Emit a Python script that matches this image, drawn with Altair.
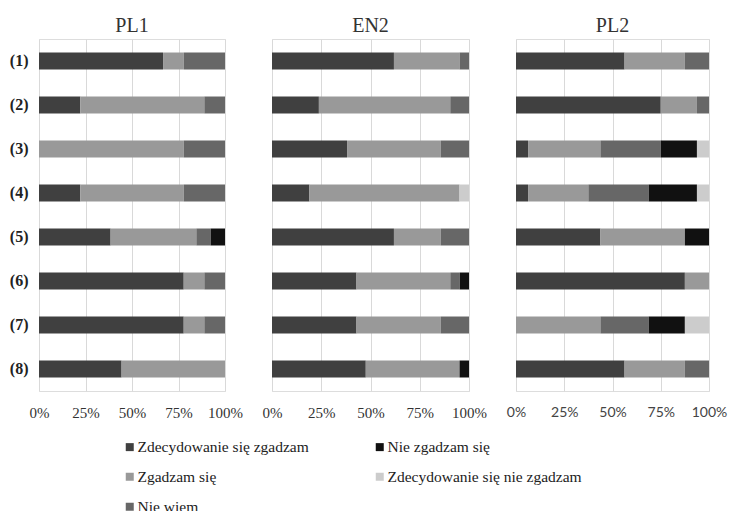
import altair as alt
import pandas as pd

rows = ["(1)", "(2)", "(3)", "(4)", "(5)", "(6)", "(7)", "(8)"]
panels = ["PL1", "EN2", "PL2"]

# stacking order (left to right); Vega fills legend columns top-down,
# which gives the reference's two-column arrangement
stack_cats = ["Zdecydowanie się zgadzam", "Zgadzam się", "Nie wiem",
              "Nie zgadzam się", "Zdecydowanie się nie zgadzam"]
stack_colors = ["#404040", "#999999", "#676767", "#111111", "#cccccc"]

# PL1 (percent)
pl1_zz = [66.7, 22.2, 0, 22.2, 38.5, 77.8, 77.8, 44.4]
pl1_zg = [11.1, 66.7, 77.8, 55.6, 46.1, 11.1, 11.1, 55.6]
pl1_nw = [22.2, 11.1, 22.2, 22.2, 7.7, 11.1, 11.1, 0]
pl1_nz = [0, 0, 0, 0, 7.7, 0, 0, 0]
pl1_zn = [0, 0, 0, 0, 0, 0, 0, 0]

# EN2
en2_zz = [61.9, 23.8, 38.1, 19.0, 61.9, 42.9, 42.9, 47.6]
en2_zg = [33.3, 66.7, 47.6, 76.2, 23.8, 47.6, 42.8, 47.6]
en2_nw = [4.8, 9.5, 14.3, 0, 14.3, 4.8, 14.3, 0]
en2_nz = [0, 0, 0, 0, 0, 4.7, 0, 4.8]
en2_zn = [0, 0, 0, 4.8, 0, 0, 0, 0]

# PL2
pl2_zz = [56.25, 75, 6.25, 6.25, 43.75, 87.5, 0, 56.25]
pl2_zg = [31.25, 18.75, 37.5, 31.25, 43.75, 12.5, 43.75, 31.25]
pl2_nw = [12.5, 6.25, 31.25, 31.25, 0, 0, 25, 12.5]
pl2_nz = [0, 0, 18.75, 25, 12.5, 0, 18.75, 0]
pl2_zn = [0, 0, 6.25, 6.25, 0, 0, 12.5, 0]

panel_series = {
    "PL1": [pl1_zz, pl1_zg, pl1_nw, pl1_nz, pl1_zn],
    "EN2": [en2_zz, en2_zg, en2_nw, en2_nz, en2_zn],
    "PL2": [pl2_zz, pl2_zg, pl2_nw, pl2_nz, pl2_zn],
}

FONT = "Liberation Serif"
SANS = "Lato"
widths = {"PL1": 186, "EN2": 197, "PL2": 193}


def make_df(name):
    recs = []
    for k, (cat, vals) in enumerate(zip(stack_cats, panel_series[name])):
        for r, v in zip(rows, vals):
            if v > 0:
                recs.append({"row": r, "cat": cat, "ord": k, "value": v})
    return pd.DataFrame(recs)


def panel(name, show_y, tick_font, tick_size, tick_color):
    yaxis = alt.Axis(title=None, ticks=False, domain=False,
                     labelFontSize=16, labelFontWeight="bold", labelColor="#222",
                     labelPadding=11) if show_y else None
    return alt.Chart(make_df(name)).mark_bar().encode(
        x=alt.X("value:Q", stack="normalize",
                scale=alt.Scale(domain=[0, 1], nice=False),
                axis=alt.Axis(title=None, format=".0%", values=[0, 0.25, 0.5, 0.75, 1],
                              grid=True, gridColor="#d9d9d9", ticks=False, domain=False,
                              labelFlush=False, labelFont=tick_font,
                              labelFontSize=tick_size,
                              labelColor=tick_color, labelPadding=14)),
        y=alt.Y("row:N", sort=rows,
                scale=alt.Scale(domain=rows, paddingInner=0.614, paddingOuter=0.307),
                axis=yaxis),
        color=alt.Color("cat:N",
                        scale=alt.Scale(domain=stack_cats, range=stack_colors),
                        legend=alt.Legend(title=None, orient="none", legendX=83,
                                          legendY=400, columns=2, columnPadding=63,
                                          rowPadding=13, symbolType="square",
                                          symbolSize=64, symbolStrokeWidth=0,
                                          labelFont=FONT, labelFontSize=15.5,
                                          labelColor="#222", labelOffset=0,
                                          labelLimit=300)),
        order=alt.Order("ord:Q"),
    ).properties(width=widths[name], height=352,
                 title=alt.TitleParams(name, font=FONT, fontSize=20,
                                       fontWeight="normal", color="#333", offset=3))


chart = alt.hconcat(
    panel("PL1", True, FONT, 15, "#333"),
    panel("EN2", False, FONT, 15, "#333"),
    panel("PL2", False, SANS, 14, "#444"),
    spacing=47, bounds="flush",
).configure_view(stroke=None).configure(font=FONT).properties(
    padding={"left": 0, "top": 7, "right": 0, "bottom": 0})

chart.save("out.html", embed_options={"renderer": "svg", "actions": False})
